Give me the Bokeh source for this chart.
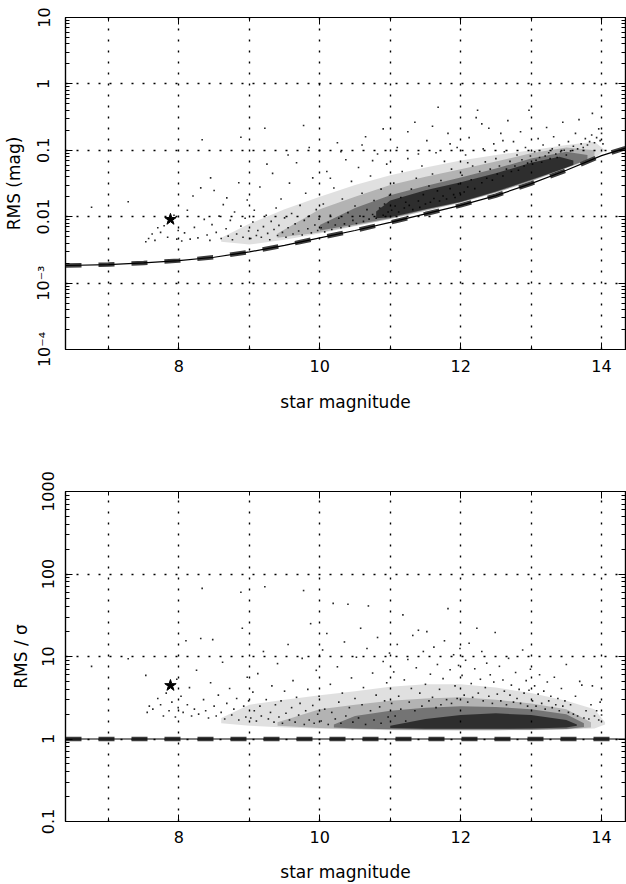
import numpy as np
from bokeh.plotting import figure
from bokeh.models import Range1d, FixedTicker, LinearAxis, LogAxis, CustomJSTickFormatter
from bokeh.layouts import column
from bokeh.embed import file_html
from bokeh.resources import INLINE

FONT = "DejaVu Sans"

# ---------------- axes / ticks ----------------
x_ticks = [8, 10, 12, 14]
x_minor = [7, 9, 11, 13]
top_ticks = [1e-4, 1e-3, 1e-2, 1e-1, 1, 10]
top_labels = ["10⁻⁴", "10⁻³", "0.01", "0.1", "1", "10"]
bot_ticks = [0.1, 1, 10, 100, 1000]
bot_labels = ["0.1", "1", "10", "100", "1000"]

# ---------------- model curves ----------------
model_mag = [6.39, 7.0, 7.5, 8.0, 8.5, 9.0, 9.5, 10.0, 10.5, 11.0, 11.5, 12.0, 12.5, 13.0, 13.5, 14.0, 14.34]
model_rms = [0.00184, 0.0019, 0.00201, 0.00218, 0.00245, 0.00295, 0.0037, 0.0048, 0.0062, 0.0082,
             0.011, 0.0148, 0.0208, 0.0315, 0.05, 0.083, 0.108]
ratio_mag = [6.39, 14.34]
ratio_model = [1.0, 1.0]

star_mag = [7.88]
star_rms = [0.0091]
star_ratio = [4.45]

# ---------------- top panel: RMS (mag) ----------------
top_pts_bright = [(6.76, 0.0139), (7.28, 0.0168), (7.53, 0.0042), (7.57, 0.0047), (7.62, 0.0055), (7.66, 0.0044),
                  (7.70, 0.0068), (7.74, 0.0058), (7.79, 0.0073), (7.84, 0.0049), (7.93, 0.0105), (7.97, 0.0046),
                  (7.99, 0.0062),
                  (8.04, 0.0043), (8.08, 0.0057), (8.12, 0.0125), (8.16, 0.0046), (8.2, 0.0205), (8.22, 0.0069),
                  (8.27, 0.0048), (8.31, 0.0272), (8.33, 0.144), (8.36, 0.0091), (8.4, 0.0053), (8.44, 0.0044),
                  (8.47, 0.0076), (8.5, 0.0248), (8.53, 0.0058), (8.57, 0.0102), (8.6, 0.0047), (8.63, 0.0152),
                  (8.67, 0.0066), (8.7, 0.0051), (8.73, 0.0088), (8.76, 0.0045), (8.79, 0.0118), (8.82, 0.0055),
                  (8.85, 0.0325), (8.88, 0.157), (8.88, 0.0072), (8.91, 0.0049), (8.94, 0.0095), (8.97, 0.0178),
                  (8.99, 0.0061), (8.45, 0.0385), (8.68, 0.0192)]
top_pts_mid = [(9.02, 0.0047), (9.05, 0.0083), (9.07, 0.0125), (9.1, 0.0052), (9.12, 0.0062), (9.15, 0.028),
               (9.17, 0.0049), (9.2, 0.0071), (9.22, 0.215), (9.24, 0.0105), (9.26, 0.0056), (9.29, 0.0045),
               (9.31, 0.0085), (9.33, 0.045), (9.35, 0.0064), (9.38, 0.0135), (9.4, 0.0052), (9.42, 0.0074),
               (9.45, 0.0185), (9.47, 0.0058), (9.5, 0.0096), (9.52, 0.0049), (9.55, 0.0068), (9.57, 0.032),
               (9.6, 0.0112), (9.62, 0.0055), (9.65, 0.0078), (9.67, 0.065), (9.7, 0.0061), (9.72, 0.0148),
               (9.75, 0.0053), (9.77, 0.236), (9.78, 0.0088), (9.8, 0.0225), (9.83, 0.0066), (9.85, 0.0102),
               (9.88, 0.0057), (9.9, 0.0385), (9.93, 0.0075), (9.95, 0.0128), (9.97, 0.0062), (9.99, 0.0092),
               (9.25, 0.062), (9.55, 0.085), (9.85, 0.11),
               (10.02, 0.0068), (10.05, 0.0155), (10.07, 0.0059), (10.1, 0.048), (10.12, 0.0082), (10.15, 0.0105),
               (10.17, 0.0064), (10.2, 0.027), (10.22, 0.0075), (10.25, 0.13), (10.27, 0.0095), (10.3, 0.0068),
               (10.32, 0.0185), (10.35, 0.0078), (10.37, 0.072), (10.4, 0.0115), (10.42, 0.0072), (10.45, 0.034),
               (10.47, 0.0088), (10.5, 0.0145), (10.52, 0.0079), (10.55, 0.055), (10.57, 0.0102), (10.6, 0.0225),
               (10.62, 0.0085), (10.65, 0.16), (10.67, 0.0128), (10.7, 0.0092), (10.72, 0.041), (10.75, 0.0108),
               (10.77, 0.0175), (10.8, 0.0095), (10.82, 0.088), (10.85, 0.0135), (10.87, 0.026), (10.9, 0.0105),
               (10.92, 0.0155), (10.95, 0.062), (10.97, 0.0118), (10.99, 0.021), (10.3, 0.095), (10.6, 0.12),
               (10.9, 0.21), (10.15, 0.038), (10.75, 0.07)]
top_pts_faint = [(11.02, 0.0125), (11.05, 0.032), (11.07, 0.0145), (11.1, 0.11), (11.12, 0.0118), (11.15, 0.0195),
                 (11.17, 0.048), (11.2, 0.0135), (11.22, 0.0165), (11.25, 0.075), (11.27, 0.0148), (11.3, 0.026),
                 (11.32, 0.0128), (11.35, 0.265), (11.37, 0.038), (11.4, 0.0172), (11.42, 0.0138), (11.45, 0.058),
                 (11.47, 0.0215), (11.5, 0.0155), (11.52, 0.14), (11.55, 0.029), (11.57, 0.0165), (11.6, 0.044),
                 (11.62, 0.0188), (11.65, 0.092), (11.67, 0.0245), (11.68, 0.445), (11.7, 0.0172), (11.72, 0.035),
                 (11.75, 0.0205), (11.77, 0.068), (11.8, 0.0185), (11.82, 0.18), (11.85, 0.0265), (11.87, 0.052),
                 (11.9, 0.0215), (11.92, 0.0195), (11.95, 0.11), (11.97, 0.031), (11.99, 0.0228), (11.4, 0.088),
                 (11.6, 0.23), (11.25, 0.19), (11.85, 0.125),
                 (12.02, 0.042), (12.05, 0.0235), (12.07, 0.085), (12.1, 0.028), (12.12, 0.155), (12.15, 0.036),
                 (12.17, 0.058), (12.2, 0.0265), (12.22, 0.31), (12.24, 0.40), (12.27, 0.048), (12.3, 0.0325),
                 (12.32, 0.105), (12.35, 0.067), (12.37, 0.038), (12.4, 0.215), (12.42, 0.052), (12.45, 0.0355),
                 (12.47, 0.125), (12.5, 0.075), (12.52, 0.044), (12.55, 0.058), (12.57, 0.18), (12.6, 0.041),
                 (12.62, 0.095), (12.65, 0.052), (12.67, 0.28), (12.7, 0.068), (12.72, 0.048), (12.75, 0.135),
                 (12.77, 0.058), (12.8, 0.085), (12.82, 0.05), (12.85, 0.19), (12.87, 0.072), (12.9, 0.058),
                 (12.92, 0.11), (12.95, 0.064), (12.97, 0.40), (12.99, 0.082), (12.3, 0.25), (12.6, 0.14),
                 (12.1, 0.065),
                 (13.02, 0.062), (13.05, 0.095), (13.07, 0.071), (13.1, 0.15), (13.12, 0.078), (13.15, 0.066),
                 (13.17, 0.12), (13.2, 0.082), (13.22, 0.22), (13.25, 0.092), (13.27, 0.075), (13.3, 0.105),
                 (13.32, 0.16), (13.35, 0.088), (13.37, 0.078), (13.4, 0.12), (13.42, 0.095), (13.45, 0.265),
                 (13.47, 0.1), (13.5, 0.085), (13.53, 0.135), (13.56, 0.098), (13.6, 0.115), (13.63, 0.18),
                 (13.66, 0.105), (13.68, 0.29), (13.71, 0.125), (13.74, 0.11), (13.77, 0.15), (13.8, 0.12),
                 (13.83, 0.135), (13.86, 0.17), (13.87, 0.36), (13.9, 0.13), (13.93, 0.155), (13.96, 0.21),
                 (13.98, 0.14), (14.0, 0.18), (14.02, 0.125)]

# dense sequence of stars: nested density envelopes (mag, low, high)
top_env1_mag = [8.6, 9.0, 9.5, 10.0, 10.5, 11.0, 11.5, 12.0, 12.5, 13.0, 13.5, 13.9, 14.05]
top_env1_lo = [0.0042, 0.0038, 0.0045, 0.0056, 0.0072, 0.0092, 0.0122, 0.0165, 0.023, 0.034, 0.053, 0.075, 0.1]
top_env1_hi = [0.0048, 0.0078, 0.013, 0.02, 0.03, 0.042, 0.055, 0.07, 0.085, 0.1, 0.12, 0.135, 0.1]
top_env2_mag = [9.4, 10.0, 10.5, 11.0, 11.5, 12.0, 12.5, 13.0, 13.5, 13.9]
top_env2_lo = [0.0048, 0.0058, 0.0073, 0.0092, 0.0123, 0.0162, 0.023, 0.034, 0.054, 0.078]
top_env2_hi = [0.0056, 0.013, 0.02, 0.03, 0.04, 0.052, 0.068, 0.09, 0.11, 0.1]
top_env3_mag = [10.0, 10.5, 11.0, 11.5, 12.0, 12.5, 13.0, 13.5, 13.8]
top_env3_lo = [0.0062, 0.0076, 0.0095, 0.0127, 0.0165, 0.0235, 0.035, 0.055, 0.072]
top_env3_hi = [0.0075, 0.0135, 0.021, 0.029, 0.039, 0.053, 0.075, 0.095, 0.085]
top_env4_mag = [10.8, 11.0, 11.5, 12.0, 12.5, 13.0, 13.4, 13.6]
top_env4_lo = [0.0095, 0.0098, 0.013, 0.0168, 0.024, 0.036, 0.05, 0.06]
top_env4_hi = [0.012, 0.0175, 0.025, 0.033, 0.045, 0.065, 0.08, 0.07]

# ---------------- bottom panel: RMS / sigma ----------------
bot_pts_bright = [(6.76, 7.6), (7.28, 9.4), (7.53, 5.9), (7.55, 2.1), (7.58, 2.5), (7.63, 2.3), (7.7, 3.1),
                  (7.74, 2.6), (7.78, 1.9), (7.82, 3.6), (7.86, 2.2), (7.9, 2.8), (7.95, 1.85), (7.97, 5.3),
                  (7.99, 2.4),
                  (8.03, 3.3), (8.06, 2.1), (8.1, 15.5), (8.12, 2.6), (8.15, 4.2), (8.18, 1.9), (8.22, 2.3),
                  (8.25, 6.8), (8.28, 2.0), (8.31, 16.5), (8.33, 67), (8.35, 3.0), (8.38, 2.2), (8.42, 1.8),
                  (8.45, 4.8), (8.48, 16), (8.5, 2.5), (8.53, 1.9), (8.56, 3.4), (8.6, 2.1), (8.62, 8.5),
                  (8.65, 1.75), (8.68, 2.7), (8.72, 4.1), (8.75, 1.95), (8.78, 2.3), (8.82, 3.1), (8.85, 1.7),
                  (8.88, 60), (8.9, 22), (8.92, 2.5), (8.95, 1.85), (8.97, 5.6), (8.99, 2.9)]
bot_pts_mid = [(9.02, 1.8), (9.05, 3.7), (9.07, 2.2), (9.1, 1.65), (9.12, 6.2), (9.15, 2.5), (9.17, 1.9),
               (9.2, 11.5), (9.22, 70), (9.24, 3.0), (9.27, 1.75), (9.3, 2.1), (9.32, 4.4), (9.35, 1.6),
               (9.37, 2.6), (9.4, 8.2), (9.42, 1.85), (9.45, 2.9), (9.47, 1.55), (9.5, 3.8), (9.52, 2.05),
               (9.55, 14), (9.57, 1.7), (9.6, 2.4), (9.62, 5.1), (9.65, 1.6), (9.67, 3.2), (9.7, 1.95),
               (9.72, 2.7), (9.75, 9.5), (9.77, 63), (9.78, 1.5), (9.8, 2.2), (9.83, 4.0), (9.85, 1.7),
               (9.87, 25), (9.9, 2.55), (9.92, 1.55), (9.95, 6.8), (9.97, 2.0), (9.99, 3.3),
               (10.02, 1.65), (10.04, 12), (10.07, 2.3), (10.1, 19), (10.12, 1.5), (10.15, 4.6), (10.17, 2.1),
               (10.19, 44), (10.22, 1.75), (10.25, 7.5), (10.27, 2.8), (10.3, 1.55), (10.32, 3.6), (10.35, 15),
               (10.37, 1.9), (10.4, 43), (10.42, 2.4), (10.45, 5.5), (10.47, 1.6), (10.5, 3.1), (10.52, 9.8),
               (10.55, 1.8), (10.58, 22), (10.6, 2.6), (10.62, 4.2), (10.65, 1.5), (10.67, 12.5), (10.69, 41),
               (10.72, 2.2), (10.75, 6.3), (10.77, 1.7), (10.8, 3.4), (10.82, 17), (10.85, 2.45), (10.87, 1.55),
               (10.9, 8.7), (10.92, 2.9), (10.95, 4.8), (10.97, 1.85), (10.99, 11)]
bot_pts_faint = [(11.02, 2.7), (11.05, 6.5), (11.07, 1.9), (11.1, 14), (11.12, 3.3), (11.15, 2.3), (11.18, 32),
                 (11.2, 5.2), (11.22, 1.65), (11.25, 9.2), (11.27, 2.8), (11.3, 4.1), (11.32, 18), (11.35, 2.2),
                 (11.37, 7.3), (11.4, 20.8), (11.42, 3.6), (11.45, 2.5), (11.47, 11.5), (11.5, 4.6), (11.52, 20),
                 (11.55, 2.9), (11.57, 6.1), (11.6, 3.2), (11.62, 13), (11.65, 2.4), (11.67, 8.0), (11.7, 4.0),
                 (11.72, 2.6), (11.75, 5.4), (11.77, 15.5), (11.8, 3.0), (11.82, 38), (11.85, 6.9), (11.87, 2.7),
                 (11.9, 10.5), (11.92, 4.4), (11.95, 3.1), (11.97, 7.8), (11.99, 12.5),
                 (12.02, 5.9), (12.05, 3.4), (12.07, 9.0), (12.1, 2.8), (12.12, 14.5), (12.15, 4.7), (12.17, 3.2),
                 (12.2, 7.1), (12.23, 22), (12.25, 3.6), (12.28, 5.3), (12.3, 11.5), (12.32, 2.9), (12.35, 4.2),
                 (12.37, 8.3), (12.4, 3.3), (12.42, 6.0), (12.45, 2.7), (12.47, 4.9), (12.49, 19.5), (12.52, 3.5),
                 (12.55, 7.6), (12.57, 2.9), (12.6, 5.2), (12.62, 3.8), (12.65, 2.6), (12.68, 9.5), (12.7, 3.4),
                 (12.72, 4.5), (12.75, 2.8), (12.78, 6.4), (12.8, 3.1), (12.83, 4.0), (12.85, 2.7), (12.88, 12),
                 (12.9, 3.6), (12.93, 5.1), (12.95, 2.5), (12.97, 3.9), (12.99, 7.0),
                 (13.02, 2.9), (13.05, 4.4), (13.07, 2.5), (13.1, 3.5), (13.12, 6.0), (13.15, 2.7), (13.18, 3.8),
                 (13.2, 2.3), (13.23, 4.9), (13.25, 2.9), (13.28, 3.3), (13.3, 2.4), (13.33, 5.6), (13.35, 2.6),
                 (13.38, 3.1), (13.4, 2.2), (13.43, 4.1), (13.45, 2.5), (13.48, 2.9), (13.5, 8.0), (13.53, 2.1),
                 (13.56, 2.6), (13.6, 2.0), (13.63, 3.3), (13.66, 1.9), (13.69, 5.0), (13.72, 4.5), (13.75, 1.8),
                 (13.78, 2.2), (13.82, 1.75), (13.85, 2.6), (13.87, 4.4), (13.9, 1.9), (13.93, 2.2), (13.96, 1.7),
                 (13.98, 2.8), (14.0, 1.95)]

bot_env1_mag = [8.6, 9.0, 9.5, 10.0, 10.5, 11.0, 11.5, 12.0, 12.5, 13.0, 13.5, 13.9, 14.05]
bot_env1_lo = [1.55, 1.45, 1.38, 1.33, 1.3, 1.28, 1.27, 1.27, 1.27, 1.28, 1.3, 1.34, 1.5]
bot_env1_hi = [1.8, 2.6, 3.0, 3.4, 3.8, 4.3, 4.6, 4.6, 4.2, 3.6, 2.9, 2.3, 1.6]
bot_env2_mag = [9.4, 10.0, 10.5, 11.0, 11.5, 12.0, 12.5, 13.0, 13.5, 13.85]
bot_env2_lo = [1.45, 1.36, 1.32, 1.3, 1.29, 1.28, 1.28, 1.29, 1.31, 1.38]
bot_env2_hi = [1.6, 2.3, 2.6, 2.9, 3.1, 3.2, 3.0, 2.7, 2.3, 1.6]
bot_env3_mag = [10.2, 10.5, 11.0, 11.5, 12.0, 12.5, 13.0, 13.5, 13.75]
bot_env3_lo = [1.38, 1.34, 1.31, 1.3, 1.3, 1.3, 1.3, 1.32, 1.4]
bot_env3_hi = [1.5, 1.9, 2.2, 2.4, 2.5, 2.45, 2.3, 2.0, 1.55]
bot_env4_mag = [11.0, 11.5, 12.0, 12.5, 13.0, 13.5, 13.65]
bot_env4_lo = [1.36, 1.33, 1.33, 1.33, 1.34, 1.38, 1.45]
bot_env4_hi = [1.45, 1.75, 1.95, 2.05, 1.95, 1.7, 1.5]

env_alpha = [0.12, 0.2, 0.35, 0.6]


def minor_log(ticks):
    out = []
    for d in ticks[:-1]:
        out += [d * k for k in range(2, 10)]
    return out


def blank():
    return CustomJSTickFormatter(code="return '';")


def make_fig(height, btop, bbottom, yr, ylabel, yticks, ylabels, x_std, t_std):
    p = figure(width=626, height=height, x_range=Range1d(6.39, 14.34), y_range=Range1d(*yr),
               y_axis_type="log", output_backend="svg", toolbar_location=None,
               min_border_left=64, min_border_right=1, min_border_top=btop, min_border_bottom=bbottom)
    p.background_fill_color = "white"
    p.border_fill_color = "white"
    p.outline_line_color = "black"
    p.outline_line_width = 1.2

    xa = p.xaxis[0]
    xa.ticker = FixedTicker(ticks=x_ticks, minor_ticks=x_minor)
    ya = p.yaxis[0]
    ya.ticker = FixedTicker(ticks=yticks, minor_ticks=minor_log(yticks))
    ya.major_label_overrides = {t: l for t, l in zip(yticks, ylabels)}
    ya.major_label_orientation = "vertical"
    for ax in (xa, ya):
        ax.major_tick_in = 7
        ax.major_tick_out = 0
        ax.minor_tick_in = 4
        ax.minor_tick_out = 0
        ax.axis_line_color = "black"
        ax.axis_line_width = 1.2
        ax.major_tick_line_color = "black"
        ax.minor_tick_line_color = "black"
        ax.major_label_text_font = FONT
        ax.major_label_text_font_size = "16px"
        ax.major_label_text_color = "black"
        ax.axis_label_text_font = FONT
        ax.axis_label_text_font_size = "17px"
        ax.axis_label_text_font_style = "normal"
        ax.axis_label_text_color = "black"
    xa.axis_label = "star magnitude"
    xa.major_label_standoff = x_std
    xa.axis_label_standoff = t_std
    ya.axis_label = ylabel
    ya.major_label_standoff = 12
    ya.axis_label_standoff = 8

    top = LinearAxis(ticker=FixedTicker(ticks=x_ticks, minor_ticks=x_minor), formatter=blank(),
                     major_tick_in=7, major_tick_out=0, minor_tick_in=4, minor_tick_out=0,
                     major_label_standoff=0, major_label_text_font_size="1px", axis_line_width=1.2)
    right = LogAxis(ticker=FixedTicker(ticks=yticks, minor_ticks=minor_log(yticks)), formatter=blank(),
                    major_tick_in=7, major_tick_out=0, minor_tick_in=4, minor_tick_out=0,
                    major_label_standoff=0, major_label_text_font_size="1px", axis_line_width=1.2)
    p.add_layout(top, "above")
    p.add_layout(right, "right")

    for g in (p.xgrid[0], p.ygrid[0]):
        g.grid_line_color = "black"
        g.grid_line_width = 1.4
        g.grid_line_dash = "2 9"
    p.xgrid[0].minor_grid_line_color = "black"
    p.xgrid[0].minor_grid_line_width = 1.4
    p.xgrid[0].minor_grid_line_dash = "2 9"
    return p


def draw_bands(p, bands):
    for (mags, lo, hi), alpha in zip(bands, env_alpha):
        p.patch(list(mags) + list(mags)[::-1], list(lo) + list(hi)[::-1],
                fill_color="black", fill_alpha=alpha, line_color=None)


def draw_points(p, groups):
    for grp in groups:
        xs = [a for a, b in grp]
        ys = [b for a, b in grp]
        p.scatter(xs, ys, marker="square", size=1.6, fill_color="black", fill_alpha=0.85, line_color=None)


# ---------- top ----------
p1 = make_fig(420, 17, 71, (1e-4, 10), "RMS (mag)", top_ticks, top_labels, 10, 17)
draw_bands(p1, [(top_env1_mag, top_env1_lo, top_env1_hi), (top_env2_mag, top_env2_lo, top_env2_hi),
                (top_env3_mag, top_env3_lo, top_env3_hi), (top_env4_mag, top_env4_lo, top_env4_hi)])
draw_points(p1, [top_pts_bright, top_pts_mid, top_pts_faint])
p1.line(model_mag, model_rms, line_color="#3c3c3c", line_width=4.5, line_dash="16 17")
p1.line(model_mag, model_rms, line_color="black", line_width=1.2)
p1.scatter(star_mag, star_rms, marker="star", size=12, fill_color="black", line_color="black")

# ---------- bottom ----------
p2 = make_fig(464, 71, 61, (0.1, 1000), "RMS / σ", bot_ticks, bot_labels, 9, 16)
draw_bands(p2, [(bot_env1_mag, bot_env1_lo, bot_env1_hi), (bot_env2_mag, bot_env2_lo, bot_env2_hi),
                (bot_env3_mag, bot_env3_lo, bot_env3_hi), (bot_env4_mag, bot_env4_lo, bot_env4_hi)])
draw_points(p2, [bot_pts_bright, bot_pts_mid, bot_pts_faint])
p2.line(ratio_mag, ratio_model, line_color="#3c3c3c", line_width=4.5, line_dash="16 17")
p2.line(ratio_mag, ratio_model, line_color="black", line_width=1.2)
p2.scatter(star_mag, star_ratio, marker="star", size=12, fill_color="black", line_color="black")

layout = column(p1, p2)
open("out.html", "w").write(file_html(layout, INLINE))
